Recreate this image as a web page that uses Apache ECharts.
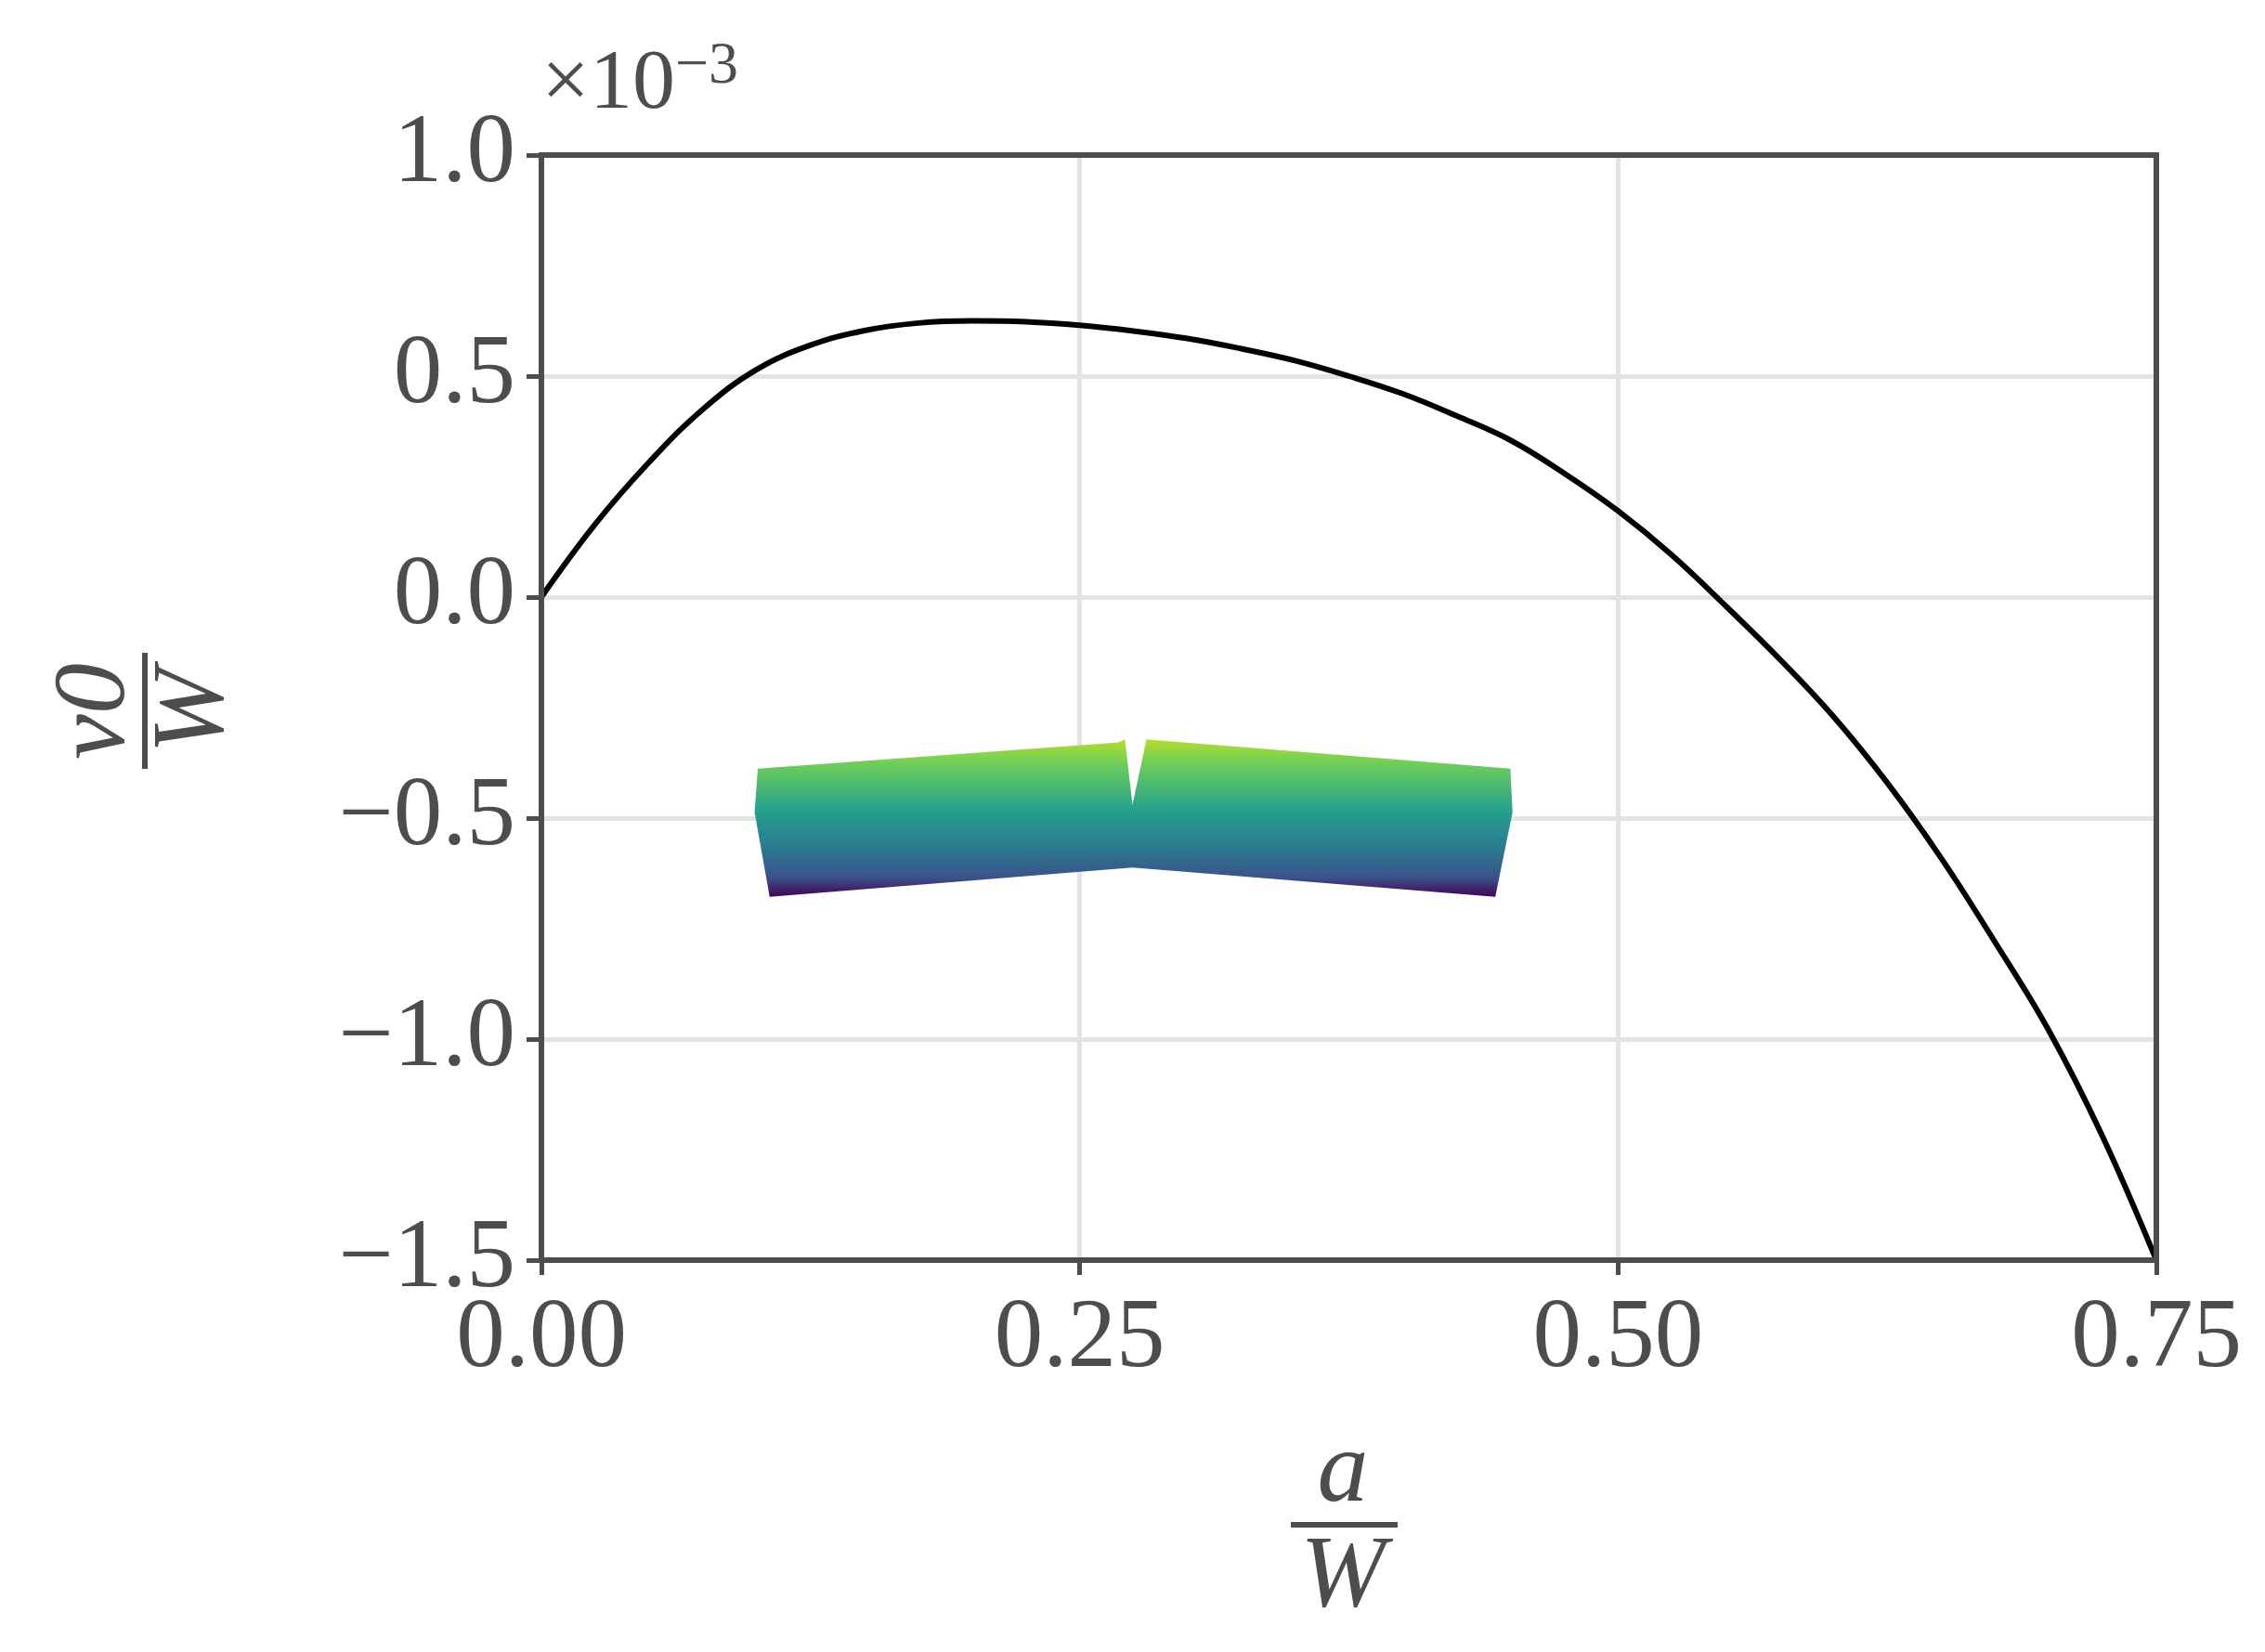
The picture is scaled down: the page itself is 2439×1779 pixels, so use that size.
<!DOCTYPE html>
<html><head><meta charset="utf-8">
<script src="https://cdn.jsdelivr.net/npm/echarts@6/dist/echarts.min.js"></script>
<style>html,body{margin:0;padding:0;background:#fff}#c{width:2439px;height:1779px}</style>
</head><body><div id="c"></div>
<script>
const xTicks = [0, 0.25, 0.5, 0.75];
const yTicks = [-1.5, -1.0, -0.5, 0.0, 0.5, 1.0];
const curveX = [0, 0.025, 0.05, 0.075, 0.1, 0.125, 0.15, 0.175, 0.2, 0.225, 0.25, 0.275, 0.3, 0.325, 0.35, 0.375, 0.4, 0.425, 0.45, 0.475, 0.5, 0.525, 0.55, 0.575, 0.6, 0.625, 0.65, 0.675, 0.7, 0.725, 0.75];
const curveY = [0, 0.165, 0.305, 0.425, 0.515, 0.57, 0.603, 0.62, 0.625, 0.623, 0.615, 0.602, 0.585, 0.562, 0.535, 0.5, 0.46, 0.41, 0.355, 0.28, 0.195, 0.095, -0.02, -0.14, -0.27, -0.42, -0.59, -0.78, -0.98, -1.22, -1.5];
const beamX = [0.1005, 0.268, 0.271, 0.2745, 0.281, 0.450, 0.451, 0.443, 0.2745, 0.106, 0.099];
const beamY = [-0.388, -0.329, -0.322, -0.470, -0.322, -0.388, -0.487, -0.678, -0.612, -0.678, -0.487];

const FONT = 'Liberation Serif';
const GREY = '#4d4d4d';
const chart = echarts.init(document.getElementById('c'));
const fmt = v => { const s = Math.abs(v).toFixed(1); return v < 0 ? '\u2212' + s : s; };
chart.setOption({
  animation: false,
  backgroundColor: '#fff',
  grid: { left: 583, right: 117, top: 167, bottom: 422, show: true, borderColor: GREY, borderWidth: 6, z: 10 },
  xAxis: {
    type: 'value', min: 0, max: 0.75, interval: 0.25,
    axisLine: { show: true, onZero: false, lineStyle: { color: GREY, width: 6 } },
    axisTick: { show: true, length: 16, lineStyle: { color: GREY, width: 5 } },
    axisLabel: { fontFamily: FONT, fontSize: 105, color: GREY, margin: 34, formatter: v => v.toFixed(2) },
    splitLine: { show: true, lineStyle: { color: '#e3e3e3', width: 5 } }
  },
  yAxis: {
    type: 'value', min: -1.5, max: 1.0, interval: 0.5,
    axisLine: { show: true, onZero: false, lineStyle: { color: GREY, width: 6 } },
    axisTick: { show: true, length: 16, lineStyle: { color: GREY, width: 5 } },
    axisLabel: { fontFamily: FONT, fontSize: 105, color: GREY, margin: 28, formatter: fmt },
    splitLine: { show: true, lineStyle: { color: '#e3e3e3', width: 5 } }
  },
  series: [
    {
      type: 'custom', z: 2,
      data: [0],
      renderItem: (params, api) => {
        const pts = beamX.map((x, i) => api.coord([x, beamY[i]]));
        return {
          type: 'polygon', shape: { points: pts },
          style: { fill: new echarts.graphic.LinearGradient(0, 0, 0, 1, [
            { offset: 0, color: '#b5de2b' }, { offset: 0.15, color: '#6ece58' },
            { offset: 0.45, color: '#25a18e' }, { offset: 0.7, color: '#2a788e' },
            { offset: 0.88, color: '#3b528b' }, { offset: 1, color: '#440154' }]) }
        };
      }
    },
    {
      type: 'line', z: 3, showSymbol: false, smooth: 0.4,
      data: curveX.map((x, i) => [x, curveY[i]]),
      lineStyle: { color: '#000', width: 6 }
    }
  ],
  graphic: [
    { type: 'text', left: 583, top: 40, style: { rich: { a: { fontFamily: FONT, fontSize: 92, fill: GREY }, b: { fontFamily: FONT, fontSize: 64, fill: GREY, padding: [0, 0, 40, 0] } }, text: '{a|\u00d710}{b|\u22123}' } },
    { type: 'text', x: 1446, y: 1587, style: { text: 'a', fontFamily: FONT, fontStyle: 'italic', fontSize: 110, fill: GREY, align: 'center', verticalAlign: 'middle' } },
    { type: 'rect', shape: { x: 1390, y: 1639, width: 115, height: 6 }, style: { fill: GREY } },
    { type: 'text', x: 1446, y: 1700, style: { text: 'W', fontFamily: FONT, fontStyle: 'italic', fontSize: 110, fill: GREY, align: 'center', verticalAlign: 'middle' } },
    { type: 'text', x: 104, y: 766, rotation: Math.PI / 2, style: { text: 'v0', fontFamily: FONT, fontStyle: 'italic', fontSize: 110, fill: GREY, align: 'center', verticalAlign: 'middle' } },
    { type: 'rect', shape: { x: 153, y: 703, width: 6, height: 125 }, style: { fill: GREY } },
    { type: 'text', x: 210, y: 766, rotation: Math.PI / 2, style: { text: 'W', fontFamily: FONT, fontStyle: 'italic', fontSize: 110, fill: GREY, align: 'center', verticalAlign: 'middle' } }
  ]
});
</script></body></html>
